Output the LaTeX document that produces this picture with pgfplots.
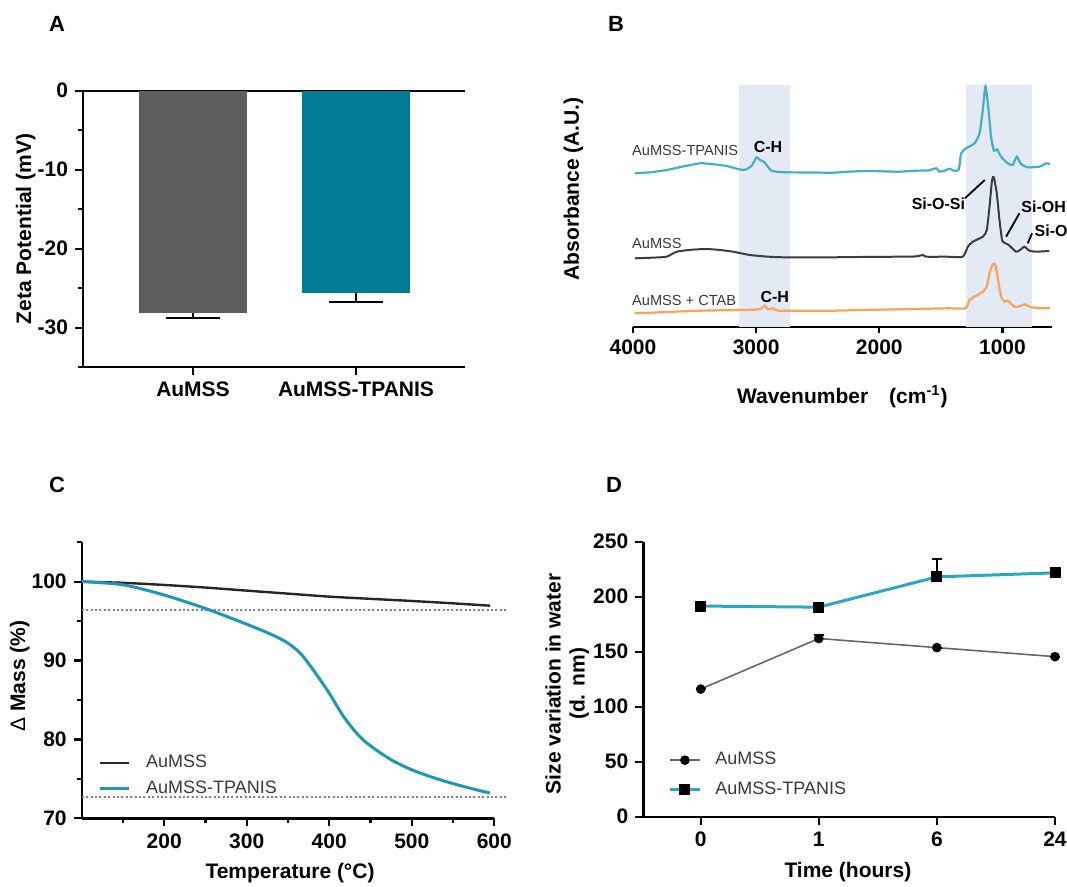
\documentclass[border=0pt]{standalone}
\usepackage{fontspec}
\setmainfont{Liberation Sans}
\usepackage{pgfplots}
\pgfplotsset{compat=1.18}

\definecolor{barGray}{HTML}{5E5E5E}
\definecolor{barTeal}{HTML}{007C96}
\definecolor{irCyan}{HTML}{45AEC6}
\definecolor{irGray}{HTML}{3C3C3C}
\definecolor{irOrange}{HTML}{F7A35C}
\definecolor{shade}{HTML}{E4EAF4}
\definecolor{tgaTeal}{HTML}{1E98B2}
\definecolor{dlsTeal}{HTML}{2AA8C6}
\definecolor{txtGray}{HTML}{3A3A3A}

\newcommand{\lbl}{\bfseries\fontsize{10.5}{12}\selectfont}

\pgfplotsset{
  panel/.style={
    scale only axis, clip=false,
    axis line style={line width=1.2pt},
    tick style={line width=1.1pt, black},
    tick align=outside,
    major tick length=4pt, minor tick length=2.5pt,
    tick label style={font=\lbl},
    label style={font=\lbl},
    /pgf/number format/assume math mode=true,
    /pgf/number format/1000 sep={},
  },
}

\begin{document}
\begin{tikzpicture}
\useasboundingbox (0,0) rectangle (533.5pt,-443.5pt);

% panel letters
\node[font=\bfseries\fontsize{11}{12}\selectfont] at (28.5pt,-12pt) {A};
\node[font=\bfseries\fontsize{11}{12}\selectfont] at (308pt,-12pt) {B};
\node[font=\bfseries\fontsize{11}{12}\selectfont] at (28.5pt,-242.5pt) {C};
\node[font=\bfseries\fontsize{11}{12}\selectfont] at (307pt,-242.5pt) {D};

% ---------- A: zeta potential
\begin{axis}[panel,
  at={(41.5pt,-183.6pt)}, anchor=south west,
  width=191pt, height=138.25pt,
  xmin=-0.675, xmax=1.669, ymin=-35, ymax=0,
  axis x line*=bottom, axis y line*=left,
  xtick={0,1}, xticklabels={AuMSS,AuMSS-TPANIS},
  ytick={-30,-20,-10,0}, minor ytick={-35,-25,-15,-5},
  extra y ticks={0}, extra y tick labels={},
  extra y tick style={grid=major, major grid style={black,line width=1.2pt}},
  ylabel={Zeta Potential (mV)},
  ylabel style={at={(axis description cs:-0.15,0.5)}, anchor=center},
]
\addplot[ybar, bar width=54pt, bar shift=0pt, fill=barGray, draw=none,
  error bars/.cd, y dir=minus, y explicit,
  error bar style={black,line width=1.1pt},
  error mark options={rotate=90,black,line width=1.1pt,mark size=13.5pt}]
  coordinates {(0,-28.1) +- (0,0.63)};
\addplot[ybar, bar width=54pt, bar shift=0pt, fill=barTeal, draw=none,
  error bars/.cd, y dir=minus, y explicit,
  error bar style={black,line width=1.1pt},
  error mark options={rotate=90,black,line width=1.1pt,mark size=13.5pt}]
  coordinates {(1,-25.65) +- (0,1.05)};
\end{axis}

% ---------- B: FTIR
\begin{axis}[panel,
  at={(316.5pt,-163.35pt)}, anchor=south west,
  width=209.35pt, height=121pt,
  xmin=600, xmax=4000, x dir=reverse, ymin=0, ymax=242,
  axis lines*=left, y axis line style={draw=none},
  axis line style={line width=1pt},
  major tick length=3pt,
  xtick={1000,2000,3000,4000}, ytick=\empty,
  xlabel={Wavenumber\quad(cm\textsuperscript{-1})},
  xlabel style={at={(axis description cs:0.5,-0.29)}, anchor=center},
  ylabel={Absorbance (A.U.)},
  ylabel style={at={(axis description cs:-0.142,0.57)}, anchor=center},
]
\addplot[fill=shade, draw=none, forget plot] coordinates {(3138,0) (3138,242) (2727,242) (2727,0)};
\addplot[fill=shade, draw=none, forget plot] coordinates {(1299,0) (1299,242) (758,242) (758,0)};
% AuMSS-TPANIS
\addplot[irCyan, line width=1.1pt, smooth, tension=0.35] coordinates {
(3984,153.4) (3850,154.5) (3727,156.7) (3600,160) (3457,163.4) (3350,162.5) (3241,160.7) (3105,156.7)
(3038,160.7) (2997,169.4) (2970,166.7) (2938,165) (2916,161.7) (2876,156) (2820,154.8) (2754,154.4)
(2550,154.2) (2376,154) (2250,155) (2105,155.7) (1950,155.3) (1835,155) (1700,156) (1600,156.3)
(1538,158.4) (1511,155) (1470,156) (1430,158) (1389,155.7) (1354,157.4) (1335,173.4) (1295,178.4)
(1227,183.4) (1186,193.4) (1162,214) (1138,240) (1114,218) (1092,190) (1070,176) (1043,177.4)
(1011,170) (957,163.4) (916,161.7) (884,170) (849,162.7) (795,159.4) (700,160) (646,163.4) (614,162.7)};
% AuMSS
\addplot[irGray, line width=1pt, smooth, tension=0.35] coordinates {
(3984,68.4) (3850,69) (3727,70) (3646,75) (3520,77) (3403,77.7) (3300,76.8) (3186,75) (3051,71.7)
(2900,70) (2781,69.4) (2600,69.2) (2376,69.4) (2100,69.8) (1835,70) (1700,70.3) (1646,71.7) (1619,70)
(1450,70) (1322,70) (1281,80) (1241,85) (1159,90) (1127,96.7) (1105,120) (1084,146.7) (1070,149.4)
(1046,133.4) (1024,106.7) (1003,86.7) (984,84) (949,81.7) (889,75) (857,76.7) (822,80) (781,76)
(727,75) (619,75.7)};
% AuMSS + CTAB
\addplot[irOrange, line width=1.1pt, smooth, tension=0.35] coordinates {
(3984,13.4) (3700,14.8) (3457,16) (3132,16.7) (2970,17.4) (2932,21) (2903,17.4) (2862,18.4) (2822,16)
(2600,16) (2376,16) (2100,16.8) (1835,17.4) (1600,18) (1430,18.4) (1300,18.4) (1268,26.7) (1227,30)
(1159,35) (1127,40) (1105,53.4) (1078,62.7) (1057,61.7) (1035,46.7) (1011,30) (984,25) (957,26)
(903,20) (860,20.5) (822,22.4) (768,19.4) (700,18.8) (614,18.4)};
% connectors
\addplot[black, line width=0.9pt, forget plot] coordinates {(1305,128.4) (1143,146.7)};
\addplot[black, line width=0.9pt, forget plot] coordinates {(970,90) (862,113.4)};
\addplot[black, line width=0.9pt, forget plot] coordinates {(795,83.4) (759,93.4)};
% texts
\begin{scope}[every node/.style={font=\fontsize{7.3}{8}\selectfont, text=txtGray, inner sep=0pt}]
\node[anchor=west] at (axis cs:4010,176.7) {AuMSS-TPANIS};
\node[anchor=west] at (axis cs:4010,83.4) {AuMSS};
\node[anchor=west] at (axis cs:4010,26.7) {AuMSS + CTAB};
\end{scope}
\begin{scope}[every node/.style={font=\bfseries\fontsize{8}{9}\selectfont, text=black, inner sep=0pt}]
\node at (axis cs:2903,179.4) {C-H};
\node at (axis cs:2849,30) {C-H};
\node[anchor=east] at (axis cs:1300,123.4) {Si-O-Si};
\node[anchor=west] at (axis cs:849,120) {Si-OH};
\node[anchor=west] at (axis cs:741,96) {Si-O};
\end{scope}
\end{axis}

% ---------- C: TGA
\begin{axis}[panel,
  at={(40.85pt,-409.15pt)}, anchor=south west,
  width=206.3pt, height=138.05pt,
  xmin=100, xmax=600, ymin=70, ymax=105,
  axis lines*=left,
  xtick={200,300,400,500,600}, minor xtick={150,250,350,450,550},
  ytick={70,80,90,100}, minor ytick={75,85,95,105},
  xlabel={Temperature (°C)},
  xlabel style={at={(axis description cs:0.505,-0.2)}, anchor=center},
  ylabel={{\mdseries Δ} Mass (\%)},
  ylabel style={at={(axis description cs:-0.15,0.515)}, anchor=center},
  legend cell align=left,
  legend image code/.code={\draw[#1] (0pt,0pt) -- (14.3pt,0pt);},
  legend style={at={(0.04,0.245)}, anchor=north west, draw=none, fill=none,
    font=\fontsize{9}{10}\selectfont, text=txtGray, inner sep=0pt,
    row sep=1pt, column sep=6pt},
]
\addplot[gray, line width=1pt, dash pattern=on 1pt off 1.2pt, forget plot] coordinates {(100,96.4) (617,96.4)};
\addplot[gray, line width=1pt, dash pattern=on 1pt off 1.2pt, forget plot] coordinates {(100,72.75) (617,72.75)};
\addplot[black!85, line width=1.2pt, smooth] coordinates {
(100,100) (150,99.85) (200,99.58) (250,99.25) (300,98.86) (350,98.48) (400,98.1) (450,97.82)
(500,97.55) (550,97.25) (595,96.95)};
\addplot[tgaTeal, line width=1.5pt, smooth] coordinates {
(100,100) (150,99.6) (200,98.3) (250,96.6) (300,94.6) (330,93.3) (350,92.2) (366,90.8) (382,88.6)
(400,85.85) (418,82.8) (437,80.35) (455,78.8) (477,77.3) (500,76.15) (525,75.2) (550,74.4)
(575,73.7) (595,73.2)};
\legend{AuMSS, AuMSS-TPANIS}
\end{axis}

% ---------- D: DLS
\begin{axis}[panel,
  at={(321.65pt,-408.35pt)}, anchor=south west,
  width=205.85pt, height=137.5pt,
  xmin=-0.486, xmax=3, ymin=0, ymax=250,
  axis lines*=left,
  xtick={0,1,2,3}, xticklabels={0,1,6,24},
  ytick={0,50,100,150,200,250},
  xlabel={Time (hours)},
  xlabel style={at={(axis description cs:0.497,-0.2)}, anchor=center},
  ylabel={Size variation in water\\(d. nm)},
  ylabel style={at={(axis description cs:-0.185,0.483)}, anchor=center, align=center},
  legend cell align=left,
  legend image code/.code={\draw[mark repeat=2,mark phase=2,#1] plot coordinates {(0pt,0pt) (7.5pt,0pt) (15pt,0pt)};},
  legend style={at={(0.06,0.25)}, anchor=north west, draw=none, fill=none,
    font=\fontsize{9}{10}\selectfont, text=txtGray, inner sep=0pt,
    row sep=3pt, column sep=5pt},
]
\addplot[black!60, line width=0.8pt, mark=*, mark size=2pt,
  mark options={fill=black, draw=black},
  error bars/.cd, y dir=plus, y explicit,
  error bar style={black,line width=1pt}, error mark options={rotate=90,black,line width=1pt,mark size=2.5pt}]
  coordinates {(0,116) +- (0,0) (1,162) +- (0,3.3) (2,153.7) +- (0,0) (3,145.5) +- (0,0)};
\addplot[dlsTeal, line width=1.5pt, mark=square*, mark size=2pt,
  mark options={fill=black, draw=black},
  error bars/.cd, y dir=plus, y explicit,
  error bar style={black,line width=1pt}, error mark options={rotate=90,black,line width=1pt,mark size=2.5pt}]
  coordinates {(0,191.5) +- (0,0) (1,190.5) +- (0,0) (2,218) +- (0,16.5) (3,221.7) +- (0,0)};
\legend{AuMSS, AuMSS-TPANIS}
\end{axis}
\end{tikzpicture}
\end{document}
